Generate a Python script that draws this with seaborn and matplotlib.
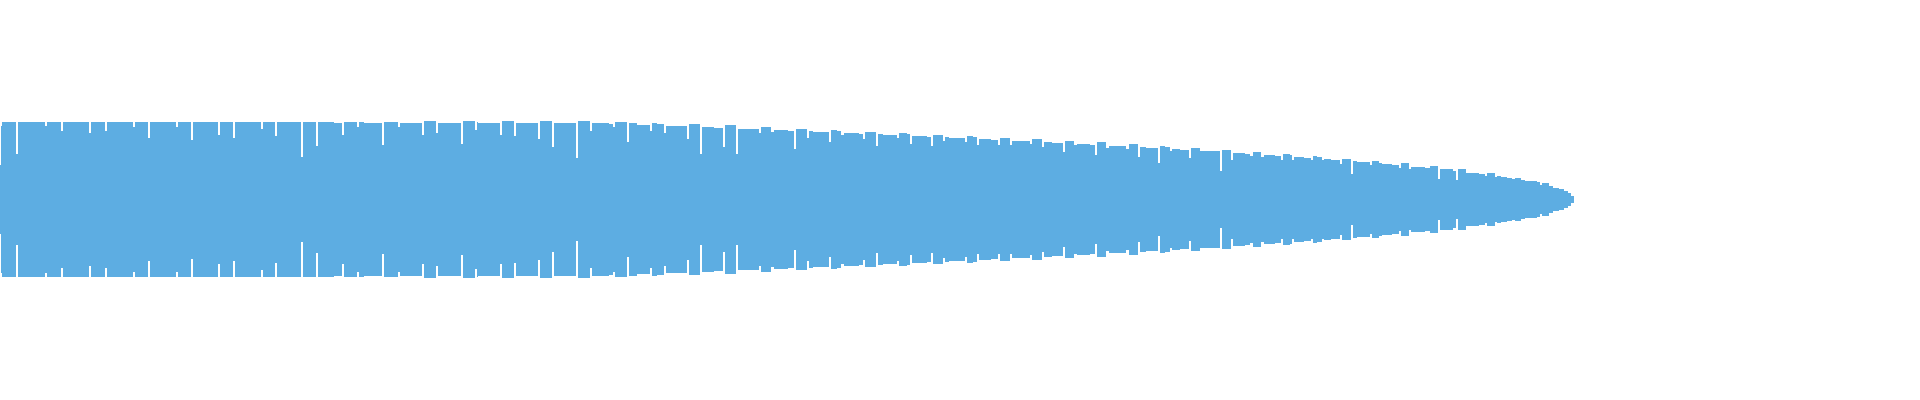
import numpy as np
import seaborn as sns
import matplotlib
matplotlib.use("Agg")
import matplotlib.pyplot as plt

sns.set_style("white")

# waveform peaks: column where each step starts and its peak level (mirrored above/below centre)
step_start = [
    0, 1, 2, 16, 18, 45, 47, 61, 63, 89, 91, 105, 107, 133, 135, 148, 150, 176, 178, 191,
    193, 218, 220, 233, 235, 261, 263, 275, 277, 301, 303, 316, 318, 334, 342, 344, 357, 359, 364, 382,
    384, 398, 400, 422, 424, 436, 438, 439, 461, 463, 475, 477, 478, 500, 502, 514, 516, 538, 540, 552,
    554, 576, 578, 590, 592, 609, 613, 615, 627, 629, 637, 650, 652, 657, 664, 666, 687, 689, 700, 702,
    714, 723, 725, 736, 738, 759, 761, 771, 774, 788, 794, 796, 800, 807, 809, 813, 829, 831, 837, 841,
    844, 859, 863, 865, 876, 878, 883, 897, 899, 907, 910, 912, 927, 931, 933, 943, 945, 949, 965, 967,
    973, 977, 979, 991, 998, 1000, 1010, 1012, 1030, 1032, 1042, 1044, 1052, 1063, 1065, 1074, 1077, 1090, 1095, 1097,
    1106, 1109, 1126, 1129, 1138, 1140, 1146, 1158, 1160, 1165, 1170, 1172, 1180, 1189, 1191, 1200, 1203, 1220, 1222, 1231,
    1233, 1245, 1250, 1253, 1261, 1264, 1275, 1281, 1283, 1290, 1292, 1294, 1304, 1311, 1313, 1317, 1322, 1324, 1331, 1340,
    1342, 1351, 1353, 1357, 1370, 1372, 1379, 1382, 1392, 1399, 1401, 1409, 1411, 1425, 1430, 1438, 1440, 1453, 1456, 1458,
    1466, 1479, 1485, 1487, 1495, 1497, 1501, 1507, 1512, 1515, 1521, 1525, 1537, 1540, 1542, 1549, 1553, 1559, 1564, 1568,
    1571, 1574,
]
peak_level = [
    34.5, 73.5, 77.5, 45.2, 77.5, 73.5, 77.5, 68.8, 77.5, 66.5, 77.5, 68.8, 77.5, 72.8, 77.5, 61.5, 77.5, 72.8, 77.5, 59.5,
    77.5, 64.2, 77.5, 61.5, 77.5, 70.2, 77.5, 63.5, 77.5, 42.8, 77.5, 53.8, 77.5, 76.2, 64.2, 77.5, 72.2, 77.5, 76.5, 54.8,
    77.5, 72.8, 76.5, 64.2, 78.5, 66.2, 76.2, 76.8, 55.2, 78.5, 69.5, 77.2, 76.5, 64.5, 78.5, 63.8, 76.5, 60.8, 78.5, 52.8,
    76.5, 41.8, 78.5, 68.8, 76.8, 75.5, 72.2, 77.5, 57.8, 76.2, 74.5, 68.8, 76.5, 75.5, 66.8, 73.8, 60.8, 75.2, 45.8, 72.8,
    71.8, 52.2, 74.2, 45.2, 70.8, 66.2, 72.5, 67.2, 69.5, 68.5, 50.2, 70.8, 70.5, 61.8, 68.5, 67.5, 57.2, 69.5, 68.5, 64.2,
    66.5, 65.5, 60.5, 67.5, 53.8, 65.5, 64.5, 61.8, 66.5, 65.5, 55.2, 63.5, 62.5, 53.2, 64.5, 58.8, 62.5, 61.5, 57.8, 63.5,
    62.5, 54.8, 60.5, 59.5, 54.8, 61.5, 54.8, 58.5, 55.8, 60.2, 52.2, 57.5, 56.5, 47.8, 58.8, 54.2, 55.8, 54.8, 44.2, 57.2,
    51.8, 53.8, 50.5, 55.5, 42.8, 52.5, 51.5, 36.2, 53.5, 52.2, 48.8, 50.5, 49.5, 41.8, 51.5, 48.8, 48.5, 28.8, 49.5, 39.5,
    46.5, 45.5, 43.8, 47.5, 42.5, 44.8, 43.5, 39.5, 45.5, 44.2, 39.5, 42.5, 41.5, 39.5, 43.5, 42.2, 39.5, 40.5, 39.5, 35.2,
    40.5, 25.5, 38.5, 37.5, 34.8, 38.5, 36.2, 35.5, 34.5, 31.8, 36.2, 30.2, 32.5, 31.5, 33.2, 20.5, 30.5, 28.5, 19.8, 30.2,
    26.8, 25.8, 23.8, 26.5, 22.2, 23.8, 22.8, 21.8, 20.8, 21.8, 19.5, 18.8, 17.2, 14.8, 16.2, 13.5, 11.5, 10.2, 8.5, 6.2,
    3.5, 0.0,
]

x = np.array(step_start, dtype=float)
y = np.array(peak_level)

fig = plt.figure(figsize=(19.2, 4), dpi=100)
ax = fig.add_axes([0, 0, 1, 1])
ax.fill_between(x, -y, y, step="post", color="#5dade2", linewidth=0, antialiased=False)
ax.set_xlim(0, 1920)
ax.set_ylim(-200.5, 199.5)
ax.axis("off")
fig.savefig("out.png", dpi=100, facecolor="white")
